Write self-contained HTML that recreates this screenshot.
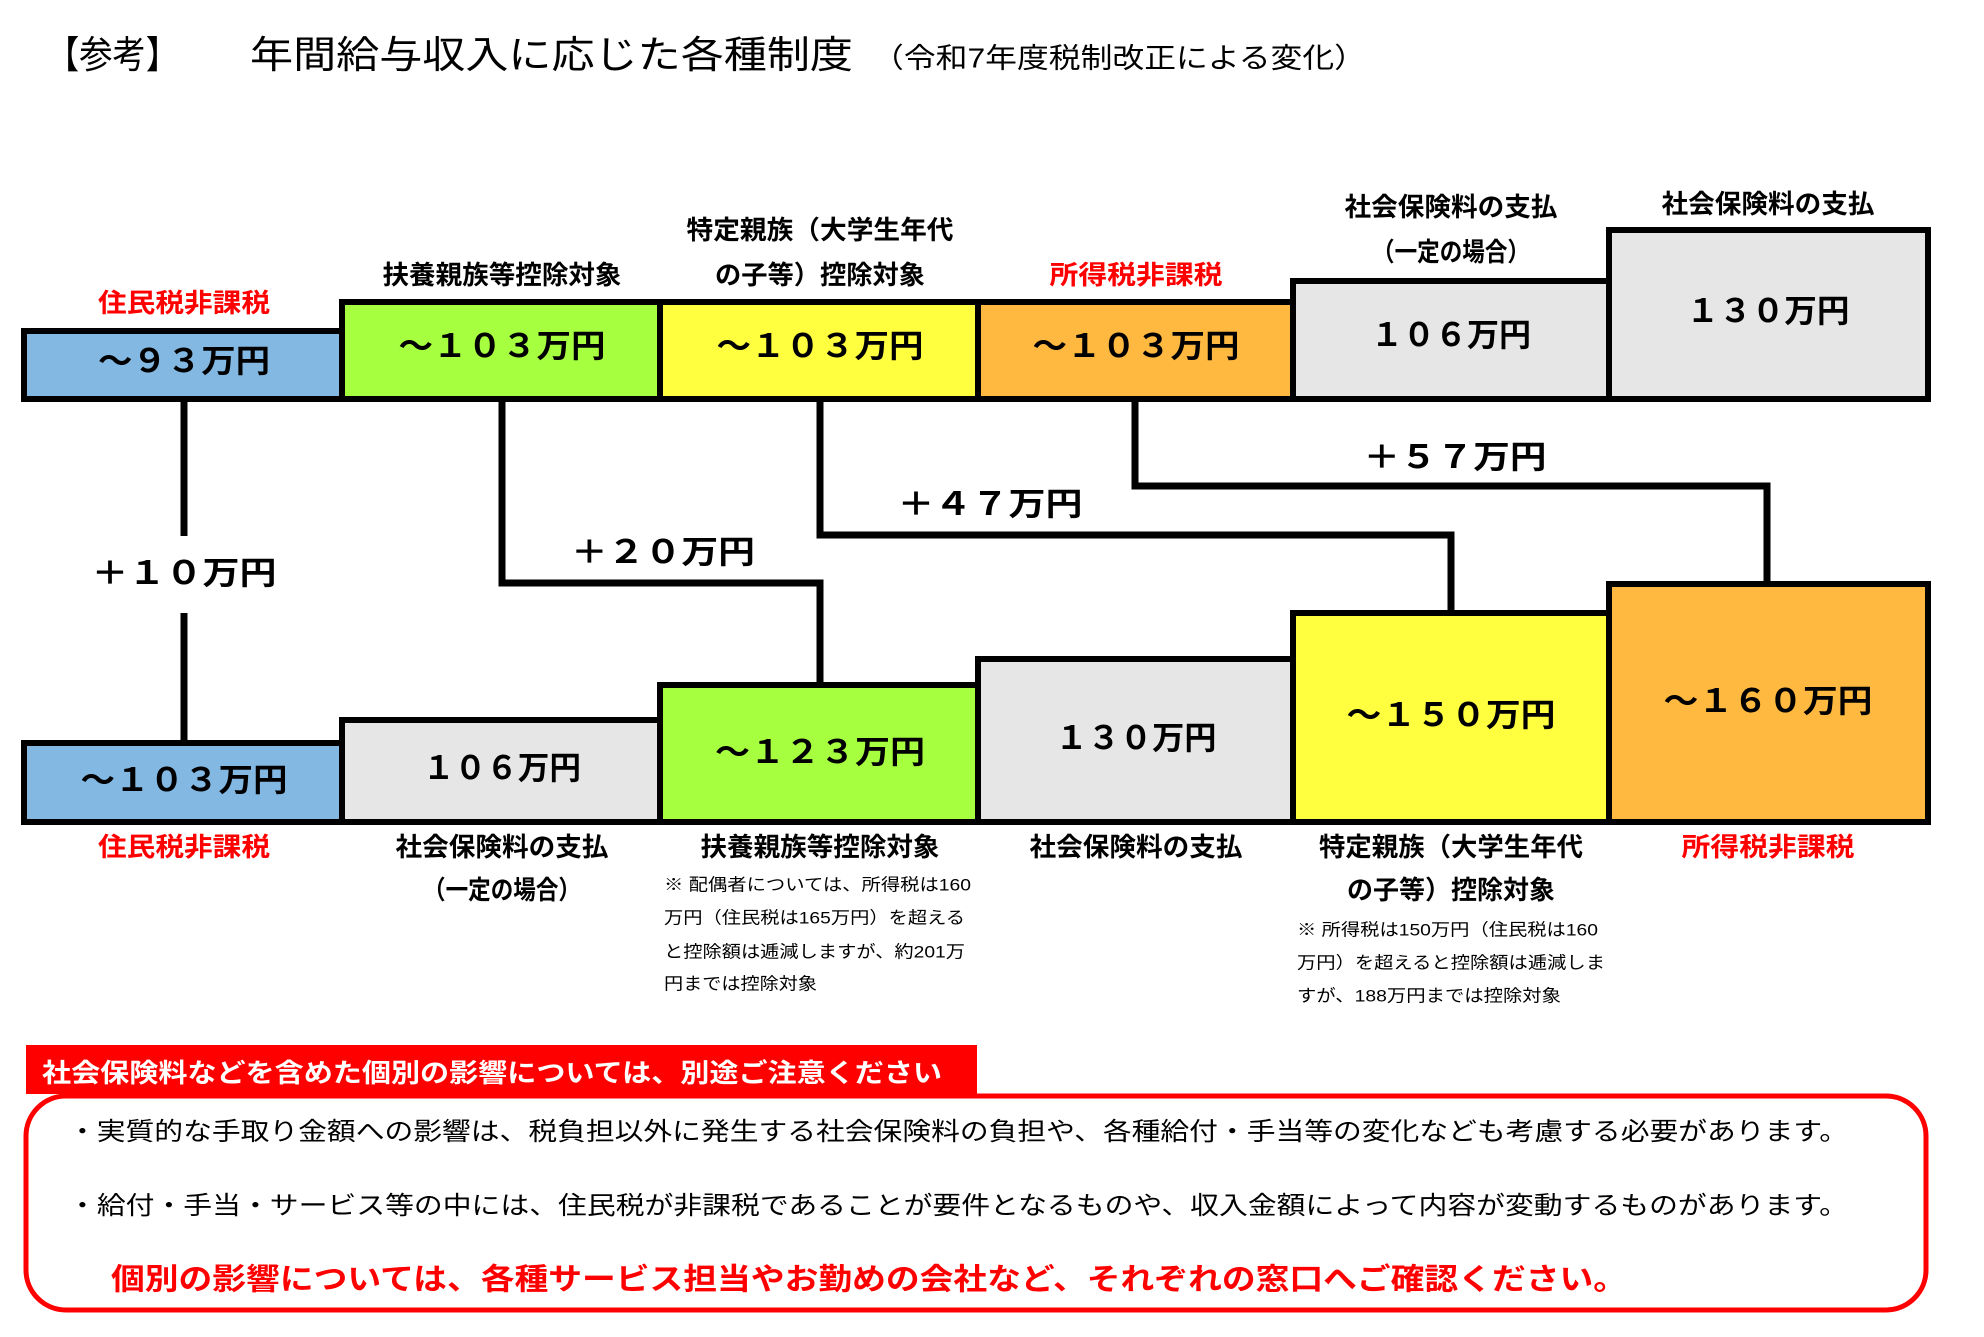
<!DOCTYPE html>
<html><head><meta charset="utf-8"><style>
html,body{margin:0;padding:0;background:#fff}
svg{display:block}
text{font-family:"Liberation Sans","Noto Sans CJK JP",sans-serif}
</style></head><body>
<svg width="1984" height="1337" viewBox="0 0 1984 1337" xmlns="http://www.w3.org/2000/svg">
<g dominant-baseline="central">
<text x="46" y="56" font-size="38" textLength="133" lengthAdjust="spacingAndGlyphs">【参考】</text>
<text x="250" y="56" font-size="38" textLength="603" lengthAdjust="spacingAndGlyphs">年間給与収入に応じた各種制度</text>
<text x="872" y="58" font-size="28" textLength="494" lengthAdjust="spacingAndGlyphs">（令和7年度税制改正による変化）</text>
</g>
<g stroke="#000" stroke-width="7" fill="none">
<path d="M184 397 V536 M184 613 V740"/>
<path d="M502 397 V583 H820 V682"/>
<path d="M820 397 V535 H1451 V610"/>
<path d="M1135 397 V486 H1767 V581"/>
</g>
<g stroke="#000" stroke-width="6">
<rect x="24" y="331" width="318" height="68" fill="#83b8e2"/>
<rect x="342" y="302" width="318" height="97" fill="#a6ff3f"/>
<rect x="660" y="302" width="318" height="97" fill="#ffff40"/>
<rect x="978" y="302" width="315" height="97" fill="#ffb940"/>
<rect x="1293" y="281" width="316" height="118" fill="#e6e6e6"/>
<rect x="1609" y="230" width="319" height="169" fill="#e6e6e6"/>
<rect x="24" y="743" width="318" height="79" fill="#83b8e2"/>
<rect x="342" y="720" width="318" height="102" fill="#e6e6e6"/>
<rect x="660" y="685" width="318" height="137" fill="#a6ff3f"/>
<rect x="978" y="659" width="315" height="163" fill="#e6e6e6"/>
<rect x="1293" y="613" width="316" height="209" fill="#ffff40"/>
<rect x="1609" y="584" width="319" height="238" fill="#ffb940"/>
</g>
<g font-weight="bold" dominant-baseline="central" text-anchor="middle" font-size="32">
<text x="184" y="361" textLength="172" lengthAdjust="spacingAndGlyphs">～９３万円</text>
<text x="502" y="346" textLength="207" lengthAdjust="spacingAndGlyphs">～１０３万円</text>
<text x="820" y="346" textLength="207" lengthAdjust="spacingAndGlyphs">～１０３万円</text>
<text x="1136" y="346" textLength="207" lengthAdjust="spacingAndGlyphs">～１０３万円</text>
<text x="1451" y="335" textLength="160" lengthAdjust="spacingAndGlyphs">１０６万円</text>
<text x="1768" y="311" textLength="163" lengthAdjust="spacingAndGlyphs">１３０万円</text>
<text x="184" y="780" textLength="207" lengthAdjust="spacingAndGlyphs">～１０３万円</text>
<text x="502" y="768" textLength="158" lengthAdjust="spacingAndGlyphs">１０６万円</text>
<text x="820" y="752" textLength="210" lengthAdjust="spacingAndGlyphs">～１２３万円</text>
<text x="1136" y="738" textLength="161" lengthAdjust="spacingAndGlyphs">１３０万円</text>
<text x="1451" y="715" textLength="209" lengthAdjust="spacingAndGlyphs">～１５０万円</text>
<text x="1768" y="701" textLength="209" lengthAdjust="spacingAndGlyphs">～１６０万円</text>
<text x="184" y="573" textLength="185" lengthAdjust="spacingAndGlyphs">＋１０万円</text>
<text x="663" y="552" textLength="184" lengthAdjust="spacingAndGlyphs">＋２０万円</text>
<text x="990" y="504" textLength="185" lengthAdjust="spacingAndGlyphs">＋４７万円</text>
<text x="1455" y="457" textLength="183" lengthAdjust="spacingAndGlyphs">＋５７万円</text>
</g>
<g font-weight="bold" dominant-baseline="central" text-anchor="middle" font-size="26">
<text x="184" y="303" fill="#ff0000" textLength="172" lengthAdjust="spacingAndGlyphs">住民税非課税</text>
<text x="502" y="275" textLength="239" lengthAdjust="spacingAndGlyphs">扶養親族等控除対象</text>
<text x="820" y="230" textLength="267" lengthAdjust="spacingAndGlyphs">特定親族（大学生年代</text>
<text x="820" y="275" textLength="210" lengthAdjust="spacingAndGlyphs">の子等）控除対象</text>
<text x="1136" y="275" fill="#ff0000" textLength="173" lengthAdjust="spacingAndGlyphs">所得税非課税</text>
<text x="1451" y="207" textLength="213" lengthAdjust="spacingAndGlyphs">社会保険料の支払</text>
<text x="1451" y="252" textLength="158" lengthAdjust="spacingAndGlyphs">（一定の場合）</text>
<text x="1768" y="204" textLength="213" lengthAdjust="spacingAndGlyphs">社会保険料の支払</text>
<text x="184" y="847" fill="#ff0000" textLength="172" lengthAdjust="spacingAndGlyphs">住民税非課税</text>
<text x="502" y="847" textLength="213" lengthAdjust="spacingAndGlyphs">社会保険料の支払</text>
<text x="502" y="890" textLength="158" lengthAdjust="spacingAndGlyphs">（一定の場合）</text>
<text x="820" y="847" textLength="239" lengthAdjust="spacingAndGlyphs">扶養親族等控除対象</text>
<text x="1136" y="847" textLength="213" lengthAdjust="spacingAndGlyphs">社会保険料の支払</text>
<text x="1451" y="847" textLength="264" lengthAdjust="spacingAndGlyphs">特定親族（大学生年代</text>
<text x="1451" y="890" textLength="208" lengthAdjust="spacingAndGlyphs">の子等）控除対象</text>
<text x="1768" y="847" fill="#ff0000" textLength="173" lengthAdjust="spacingAndGlyphs">所得税非課税</text>
</g>
<g dominant-baseline="central" font-size="17">
<text x="664" y="885" textLength="307" lengthAdjust="spacingAndGlyphs">※ 配偶者については、所得税は160</text>
<text x="664" y="918" textLength="301" lengthAdjust="spacingAndGlyphs">万円（住民税は165万円）を超える</text>
<text x="664" y="952" textLength="301" lengthAdjust="spacingAndGlyphs">と控除額は逓減しますが、約201万</text>
<text x="664" y="984" textLength="153" lengthAdjust="spacingAndGlyphs">円までは控除対象</text>
<text x="1297" y="930" textLength="301" lengthAdjust="spacingAndGlyphs">※ 所得税は150万円（住民税は160</text>
<text x="1297" y="963" textLength="308" lengthAdjust="spacingAndGlyphs">万円）を超えると控除額は逓減しま</text>
<text x="1297" y="996" textLength="264" lengthAdjust="spacingAndGlyphs">すが、188万円までは控除対象</text>
</g>
<rect x="26" y="1096" width="1900" height="214" rx="40" ry="40" fill="#fff" stroke="#ff0000" stroke-width="5"/>
<rect x="26" y="1045" width="951" height="49" fill="#ff0000"/>
<g dominant-baseline="central">
<text x="42" y="1073" font-size="26" font-weight="bold" fill="#fff" textLength="900" lengthAdjust="spacingAndGlyphs">社会保険料などを含めた個別の影響については、別途ご注意ください</text>
<text x="68" y="1132" font-size="25" textLength="1780" lengthAdjust="spacingAndGlyphs">・実質的な手取り金額への影響は、税負担以外に発生する社会保険料の負担や、各種給付・手当等の変化なども考慮する必要があります。</text>
<text x="68" y="1206" font-size="25" textLength="1780" lengthAdjust="spacingAndGlyphs">・給付・手当・サービス等の中には、住民税が非課税であることが要件となるものや、収入金額によって内容が変動するものがあります。</text>
<text x="111" y="1280" font-size="30" font-weight="bold" fill="#ff0000" textLength="1516" lengthAdjust="spacingAndGlyphs">個別の影響については、各種サービス担当やお勤めの会社など、それぞれの窓口へご確認ください。</text>
</g>
</svg>
</body></html>
